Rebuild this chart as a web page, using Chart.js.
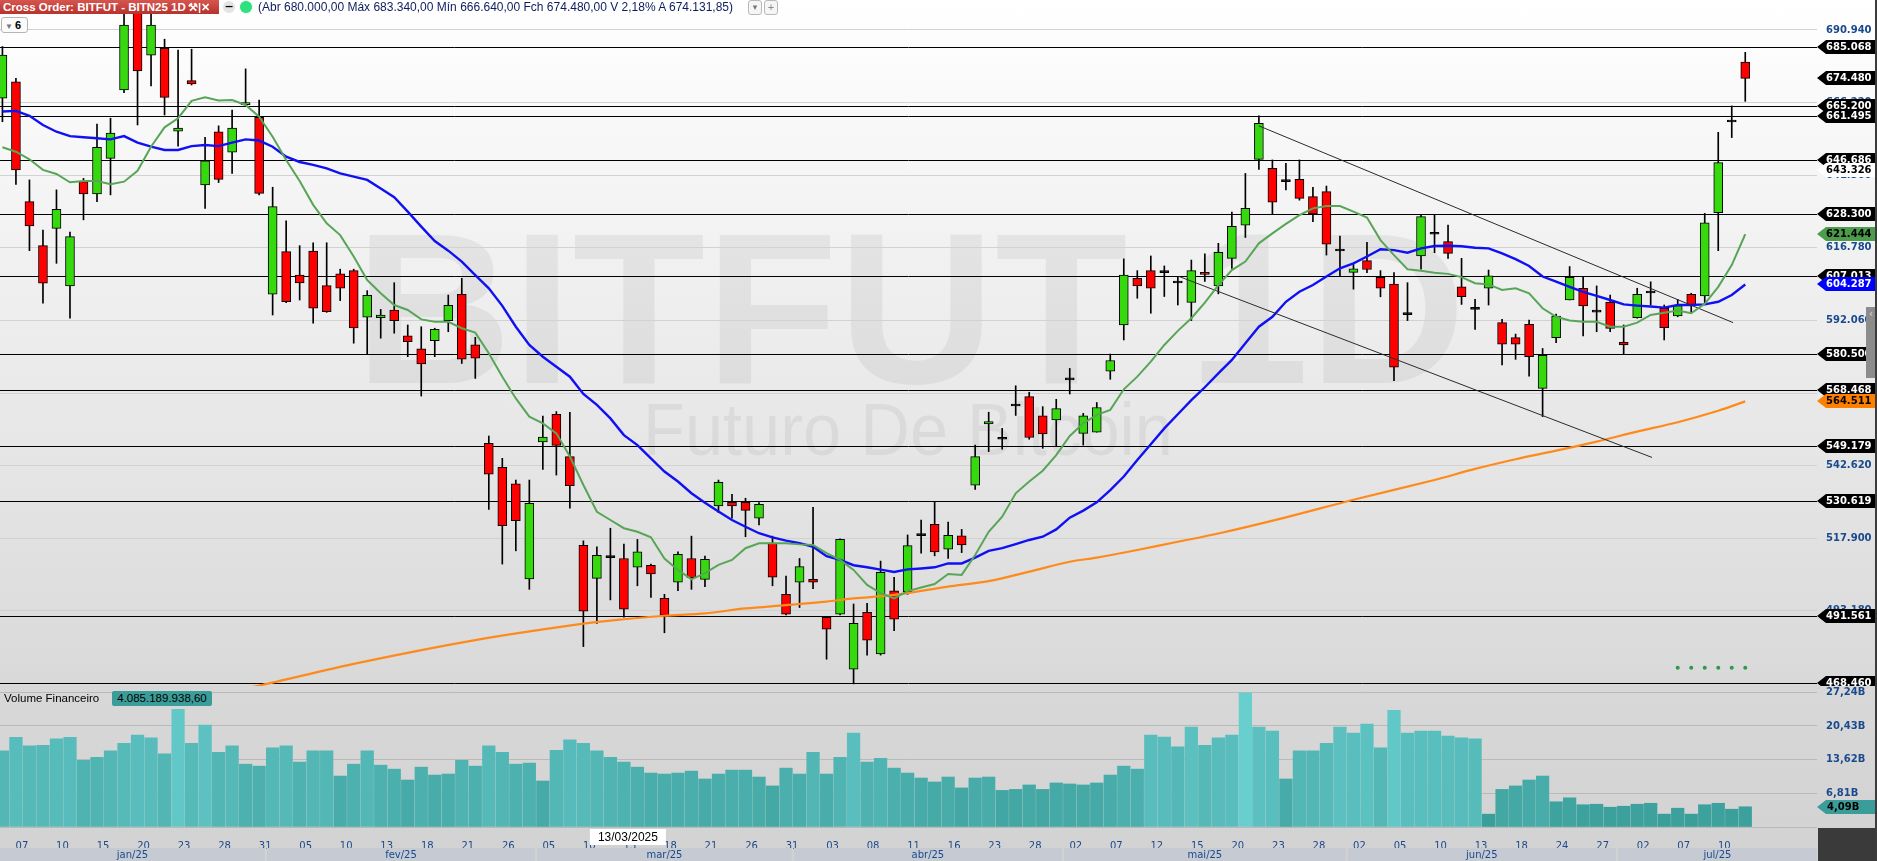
<!DOCTYPE html>
<html>
<head>
<meta charset="utf-8">
<script src="https://cdn.jsdelivr.net/npm/chart.js@4.4.1/dist/chart.umd.min.js"></script>
<style>
html, body { margin: 0; padding: 0; }
body { width: 1877px; height: 861px; position: relative; overflow: hidden; background: #d5d5d5; font-family: 'Liberation Sans', Arial, sans-serif; }
#pricePane { position: absolute; left: 0; top: 0; width: 1877px; height: 686px; background: linear-gradient(#ffffff, #d9d9d9); }
#volPane { position: absolute; left: 0; top: 686px; width: 1877px; height: 175px; background: linear-gradient(#d8d8d8, #d2d2d2); }
canvas { position: absolute; left: 0; top: 0; }
.ov { position: absolute; white-space: nowrap; }
#crossBox { left: 0; top: 0; width: 219px; height: 14px; background: linear-gradient(#d6564f, #b7332d); color: #fff; font: bold 11.5px 'Liberation Sans', Arial, sans-serif; line-height: 14px; padding-left: 3px; box-sizing: border-box; }
#crossBox .ic { position: absolute; left: 188px; top: 0; font-size: 11px; }
#minus { left: 223px; top: 1px; width: 12px; height: 12px; border-radius: 50%; background: #e4e4e4; color: #000; font: bold 11px 'DejaVu Sans'; line-height: 12px; text-align: center; }
#dot { left: 240px; top: 1px; width: 12px; height: 12px; border-radius: 50%; background: #2fe07e; box-shadow: 0 0 2px #a9f0c8; }
#hdrText { left: 258px; top: 0; font: 12px 'Liberation Sans', Arial, sans-serif; color: #0c1d5e; line-height: 14px; }
.btn { top: 0; width: 12px; height: 13px; border: 1px solid #b9b9b9; border-radius: 3px; background: #f5f5f5; color: #777; font: 9px 'DejaVu Sans'; line-height: 13px; text-align: center; }
#periodBox { left: 1px; top: 17px; width: 25px; height: 14px; border: 1px solid #b5b5b5; border-radius: 3px; background: #fbfbfb; font: bold 11px 'Liberation Sans'; line-height: 14px; }
#periodBox span { color: #777; font-size: 8px; margin: 0 2px 0 3px; }
#volLabel { left: 4px; top: 691px; font: 11.5px 'Liberation Sans', Arial, sans-serif; color: #000; line-height: 15px; }
#volValue { left: 112px; top: 691px; width: 100px; height: 15px; background: #3a9d99; border-radius: 2px; font: 11.5px 'Liberation Sans', Arial, sans-serif; color: #000; line-height: 15px; text-align: center; }
#scroll { left: 1866px; top: 307px; width: 10px; height: 71px; background: #8c8c8c; color: #ddd; font: 10px 'DejaVu Sans'; text-align: center; line-height: 14px; }
#edge { left: 1875px; top: 0; width: 2px; height: 861px; background: #3c3c3c; }
</style>
</head>
<body>
<div id="pricePane"><canvas id="priceChart" width="1877" height="686"></canvas></div>
<div id="volPane"><canvas id="volChart" width="1877" height="175"></canvas></div>

<div class="ov" id="crossBox">Cross Order: BITFUT - BITN25 1D<span class="ic">⚒|✕</span></div>
<div class="ov" id="minus">−</div>
<div class="ov" id="dot"></div>
<div class="ov" id="hdrText">(Abr 680.000,00 Máx 683.340,00 Mín 666.640,00 Fch 674.480,00 V 2,18% A 674.131,85)</div>
<div class="ov btn" style="left:748px">▾</div>
<div class="ov btn" style="left:764px">+</div>
<div class="ov" id="periodBox"><span>▼</span>6</div>
<div class="ov" id="volLabel">Volume Financeiro</div>
<div class="ov" id="volValue">4.085.189.938,60</div>
<div class="ov" id="scroll">‹</div>
<div class="ov" id="edge"></div>

<script>
// trading days shown (BITN25, daily)
const dates = [
  '06/01/2025','07/01/2025','08/01/2025','09/01/2025','10/01/2025','13/01/2025','14/01/2025','15/01/2025','16/01/2025','17/01/2025',
  '20/01/2025','21/01/2025','22/01/2025','23/01/2025','24/01/2025','27/01/2025','28/01/2025','29/01/2025','30/01/2025','31/01/2025',
  '03/02/2025','04/02/2025','05/02/2025','06/02/2025','07/02/2025','10/02/2025','11/02/2025','12/02/2025','13/02/2025','14/02/2025',
  '17/02/2025','18/02/2025','19/02/2025','20/02/2025','21/02/2025','24/02/2025','25/02/2025','26/02/2025','27/02/2025','28/02/2025',
  '05/03/2025','06/03/2025','07/03/2025','10/03/2025','11/03/2025','12/03/2025','13/03/2025','14/03/2025','17/03/2025','18/03/2025',
  '19/03/2025','20/03/2025','21/03/2025','24/03/2025','25/03/2025','26/03/2025','27/03/2025','28/03/2025','31/03/2025',
  '01/04/2025','02/04/2025','03/04/2025','04/04/2025','07/04/2025','08/04/2025','09/04/2025','10/04/2025','11/04/2025','14/04/2025',
  '15/04/2025','16/04/2025','17/04/2025','22/04/2025','23/04/2025','24/04/2025','25/04/2025','28/04/2025','29/04/2025','30/04/2025',
  '02/05/2025','05/05/2025','06/05/2025','07/05/2025','08/05/2025','09/05/2025','12/05/2025','13/05/2025','14/05/2025','15/05/2025',
  '16/05/2025','19/05/2025','20/05/2025','21/05/2025','22/05/2025','23/05/2025','26/05/2025','27/05/2025','28/05/2025','29/05/2025','30/05/2025',
  '02/06/2025','03/06/2025','04/06/2025','05/06/2025','06/06/2025','09/06/2025','10/06/2025','11/06/2025','12/06/2025','13/06/2025',
  '16/06/2025','17/06/2025','18/06/2025','20/06/2025','23/06/2025','24/06/2025','25/06/2025','26/06/2025','27/06/2025','30/06/2025',
  '01/07/2025','02/07/2025','03/07/2025','04/07/2025','07/07/2025','08/07/2025','09/07/2025','10/07/2025','11/07/2025','14/07/2025'
];
const monthNames = { '01': 'jan/25', '02': 'fev/25', '03': 'mar/25', '04': 'abr/25', '05': 'mai/25', '06': 'jun/25', '07': 'jul/25' };

const open = [
  667.7, 673.3, 632.5, 617.5, 623.4, 603.8, 639.3, 635.1, 647.2, 670.5,
  704.0, 682.4, 684.7, 656.5, 673.7, 638.2, 656.3, 649.3, 665.5, 661.2,
  601.0, 615.5, 607.5, 615.7, 603.9, 607.9, 609.0, 593.2, 593.0, 595.6,
  586.8, 582.4, 585.2, 592.0, 600.9, 583.7, 550.2, 542.0, 536.4, 504.0,
  550.7, 560.1, 545.7, 515.5, 504.2, 511.4, 511.0, 508.0, 508.7, 497.4,
  502.9, 511.0, 503.9, 528.9, 530.1, 530.1, 524.7, 516.2, 498.8,
  502.9, 503.9, 491.0, 492.0, 473.3, 492.7, 478.5, 500.0, 499.7, 518.9,
  522.6, 514.2, 518.7, 536.0, 556.8, 551.7, 563.0, 566.1, 559.6, 558.2,
  571.9, 553.6, 554.0, 574.8, 590.5, 606.4, 609.0, 608.4, 605.0, 598.2,
  608.4, 603.8, 613.2, 624.5, 646.9, 643.8, 639.4, 640.1, 634.2, 635.9, 615.8,
  608.4, 612.4, 606.7, 604.4, 594.1, 614.0, 621.5, 618.9, 603.5, 595.9,
  603.0, 591.3, 586.2, 590.7, 568.9, 586.2, 599.0, 603.0, 595.0, 598.2,
  584.6, 593.0, 601.5, 596.2, 593.6, 600.9, 600.4, 628.7, 659.7, 680.0
];
const high = [
  685.3, 674.5, 639.9, 622.8, 636.5, 622.1, 640.4, 658.9, 660.9, 697.9,
  712.0, 702.0, 687.8, 684.1, 684.4, 654.4, 658.3, 663.7, 677.7, 667.1,
  637.4, 626.0, 617.5, 618.5, 618.5, 609.5, 609.5, 602.2, 595.8, 604.9,
  590.5, 589.9, 589.4, 600.7, 606.4, 586.3, 552.7, 545.1, 537.7, 537.7,
  559.5, 561.0, 560.8, 517.0, 515.0, 521.3, 515.9, 517.5, 509.1, 498.8,
  513.3, 518.6, 511.8, 537.7, 532.8, 531.5, 530.0, 518.6, 505.0,
  511.0, 528.4, 491.2, 517.7, 495.5, 495.7, 510.1, 504.6, 519.0, 524.1,
  530.3, 523.4, 520.9, 549.6, 560.8, 555.3, 569.8, 567.6, 562.7, 565.2,
  575.7, 560.4, 564.1, 580.6, 613.0, 609.0, 614.0, 610.6, 607.0, 612.6,
  614.7, 618.3, 628.9, 642.1, 661.7, 646.7, 645.5, 646.7, 637.4, 637.8, 620.8,
  611.1, 618.6, 609.0, 608.3, 604.9, 628.0, 628.0, 624.5, 613.2, 599.2,
  609.2, 592.4, 587.4, 592.2, 582.5, 594.2, 610.4, 606.9, 603.8, 600.7,
  590.5, 603.0, 605.2, 597.3, 599.2, 601.3, 628.5, 656.1, 665.1, 683.34
];
const low = [
  659.7, 638.4, 615.8, 597.9, 611.5, 592.8, 626.3, 632.5, 634.8, 669.6,
  658.6, 671.9, 662.0, 651.4, 672.2, 630.2, 639.0, 642.1, 665.1, 634.8,
  593.9, 598.1, 599.0, 591.1, 594.8, 598.8, 584.3, 580.6, 586.0, 587.7,
  579.7, 566.3, 579.7, 588.2, 577.4, 572.3, 527.7, 509.1, 513.6, 500.5,
  541.3, 539.4, 528.1, 481.0, 488.9, 496.9, 491.0, 501.7, 497.7, 485.7,
  500.0, 500.5, 501.4, 526.6, 524.7, 518.4, 522.4, 501.7, 491.8,
  494.3, 500.7, 476.7, 491.8, 468.3, 478.1, 478.1, 486.4, 498.8, 512.8,
  511.9, 511.0, 513.0, 534.5, 547.4, 548.2, 559.7, 551.6, 548.5, 549.1,
  567.0, 549.6, 554.0, 572.0, 585.4, 599.6, 594.5, 600.2, 597.3, 592.0,
  605.3, 601.1, 609.8, 620.3, 643.5, 628.2, 636.5, 633.0, 625.7, 614.3, 607.2,
  602.7, 608.3, 600.1, 571.5, 592.0, 609.5, 615.1, 613.2, 597.5, 589.0,
  597.3, 576.9, 578.8, 573.1, 559.3, 584.5, 599.0, 586.8, 588.2, 588.2,
  580.6, 592.8, 597.3, 585.4, 593.3, 594.5, 597.9, 615.8, 654.3, 666.64
];
const close = [
  682.4, 643.3, 624.2, 604.7, 629.9, 620.6, 635.1, 651.0, 655.8, 692.6,
  677.0, 692.6, 668.0, 657.5, 672.6, 646.4, 640.1, 657.5, 666.2, 635.3,
  630.8, 598.4, 604.8, 596.2, 595.0, 603.0, 589.5, 600.6, 593.9, 592.0,
  584.8, 577.2, 589.0, 597.2, 578.9, 579.2, 539.7, 522.2, 523.9, 529.8,
  552.3, 549.5, 535.8, 493.1, 512.1, 511.3, 493.7, 513.3, 505.7, 491.6,
  512.4, 504.5, 510.7, 536.9, 528.9, 527.4, 529.4, 504.6, 492.0,
  508.2, 502.9, 486.9, 517.5, 488.9, 483.2, 506.3, 490.3, 515.4, 518.8,
  513.2, 518.9, 515.6, 545.7, 557.6, 551.6, 562.9, 552.2, 553.4, 562.0,
  571.8, 559.6, 562.4, 578.4, 607.5, 603.8, 603.0, 608.3, 604.8, 609.0,
  607.7, 615.2, 624.1, 630.2, 659.2, 632.3, 639.3, 633.6, 628.3, 618.0, 615.7,
  609.6, 609.4, 603.0, 576.1, 594.0, 627.4, 621.4, 614.9, 600.1, 595.8,
  607.2, 584.0, 584.0, 579.7, 580.2, 593.5, 606.7, 597.0, 594.9, 589.3,
  583.7, 600.9, 601.4, 589.6, 597.1, 597.3, 625.3, 645.8, 659.6, 674.48
];
// Volume Financeiro, in billions
const volume = [
  15.4, 18.1, 16.4, 16.5, 17.8, 18.1, 13.5, 14.1, 15.4, 16.9,
  18.6, 18.0, 14.8, 23.8, 16.9, 20.6, 15.1, 16.4, 12.7, 12.3,
  16.0, 16.4, 13.1, 15.4, 15.4, 10.3, 12.7, 15.4, 12.5, 11.7,
  9.5, 12.1, 10.5, 10.7, 13.5, 12.3, 16.4, 15.1, 12.7, 12.9,
  9.3, 15.5, 17.6, 16.9, 15.4, 14.1, 13.1, 12.1, 10.9, 10.7,
  10.9, 11.3, 9.7, 10.7, 11.5, 11.5, 10.1, 8.3, 11.9,
  10.7, 15.1, 10.7, 14.1, 19.0, 13.1, 13.9, 11.9, 10.9, 9.9,
  9.1, 10.1, 7.9, 9.9, 10.1, 7.4, 7.6, 8.5, 7.6, 8.9,
  8.7, 8.5, 8.9, 10.5, 12.3, 11.7, 18.6, 18.2, 16.2, 20.2,
  16.5, 18.0, 18.6, 27.1, 20.2, 19.4, 9.7, 15.4, 15.4, 16.9, 20.2,
  19.0, 20.8, 16.0, 23.6, 19.0, 19.4, 19.4, 18.4, 18.0, 17.8,
  2.6, 7.6, 8.3, 9.5, 10.3, 5.1, 5.9, 4.5, 4.6, 4.0,
  4.2, 4.6, 4.8, 2.6, 3.8, 2.6, 4.5, 4.8, 3.6, 4.09
];
// moving averages
const maGreen = [
  651.0, 649.5, 646.9, 643.3, 641.9, 639.1, 639.5, 639.5, 638.4, 639.3,
  643.0, 651.2, 657.8, 660.9, 666.8, 668.0, 666.9, 667.1, 665.4, 661.4,
  654.6, 646.7, 639.5, 631.4, 625.1, 621.1, 613.8, 605.8, 601.3, 597.3,
  595.6, 592.4, 591.6, 591.6, 589.4, 587.9, 580.9, 572.9, 565.5, 559.3,
  557.0, 553.6, 545.7, 536.0, 526.9, 524.1, 521.3, 520.1, 518.2, 511.0,
  507.1, 503.9, 506.0, 508.8, 510.5, 514.5, 516.2, 516.2, 516.2,
  515.8, 515.6, 512.8, 510.5, 507.1, 502.0, 499.2, 497.4, 499.9, 501.1,
  502.3, 505.7, 505.4, 512.2, 520.1, 525.2, 533.2, 537.2, 540.9, 546.2,
  552.7, 557.0, 559.9, 561.6, 568.6, 572.9, 578.0, 583.7, 588.5, 592.8,
  598.1, 604.1, 609.2, 612.1, 618.3, 621.7, 624.9, 627.9, 630.2, 631.0, 631.0,
  629.1, 627.1, 619.4, 614.3, 609.5, 609.0, 608.3, 607.9, 606.8, 604.7,
  604.3, 602.4, 603.0, 601.3, 596.2, 593.3, 592.0, 591.6, 591.6, 589.9,
  589.9, 591.3, 593.9, 594.7, 595.4, 594.5, 597.7, 603.5, 610.9, 621.4
];
const maBlue = [
  663.2, 663.4, 661.7, 658.6, 656.3, 654.8, 654.4, 654.1, 653.7, 654.8,
  652.6, 651.2, 650.1, 650.1, 651.4, 651.8, 651.4, 652.6, 653.7, 653.3,
  651.2, 647.8, 646.0, 645.0, 643.8, 642.1, 641.0, 639.9, 637.0, 634.0,
  629.1, 624.0, 619.1, 615.8, 612.1, 607.5, 603.0, 597.0, 589.9, 583.7,
  579.7, 576.3, 572.9, 567.0, 563.3, 558.7, 553.0, 549.6, 545.1, 540.6,
  537.2, 533.2, 530.0, 527.0, 524.1, 521.8, 519.6, 518.2, 517.1,
  516.2, 515.0, 511.8, 510.5, 508.7, 508.0, 507.2, 506.4, 507.3, 507.6,
  508.0, 509.3, 509.3, 511.3, 513.6, 514.5, 515.9, 517.3, 518.4, 520.9,
  524.9, 527.3, 530.1, 534.3, 538.9, 544.5, 549.9, 555.3, 560.1, 564.9,
  569.3, 574.0, 578.6, 584.3, 589.9, 593.3, 598.4, 601.8, 604.1, 607.0, 609.8,
  611.5, 613.8, 616.3, 616.0, 615.1, 616.6, 617.4, 617.5, 617.3, 616.8,
  616.6, 614.9, 612.9, 610.6, 607.0, 605.3, 603.5, 601.8, 600.4, 599.0,
  597.5, 597.1, 596.8, 596.4, 597.3, 597.3, 597.5, 598.4, 600.7, 604.3
];
const maOrangeIdx = [15, 19, 26, 35, 43, 46, 49, 52, 55, 58, 61, 63, 66, 70, 73, 76, 79, 81, 84, 87, 90, 95, 100, 106, 109, 112, 115, 118, 121, 124, 127, 129];
const maOrange = [464.0, 467.7, 475.1, 483.2, 488.8, 490.3, 491.5, 492.3, 494.0, 495.1, 496.3, 497.4, 498.6, 501.4, 503.3, 506.5, 509.9, 511.3, 513.9, 516.7, 519.5, 525.0, 531.0, 537.7, 541.5, 544.8, 547.7, 550.8, 554.2, 557.4, 561.3, 564.5];

// drawn studies
const trendUpperIdx = [93, 128.1];
const trendUpperVal = [658.3, 591.3];
const trendLowerIdx = [87.1, 122.1];
const trendLowerVal = [607.0, 545.4];
const markerIdx = [124, 125, 126, 127, 128, 129];
const markerVal = 473.8;

const levelLines = [685.068, 665.2, 661.495, 646.686, 628.3, 607.013, 580.5, 568.468, 549.179, 530.619, 491.561, 468.46];
const priceTicks = [690.94, 666.22, 641.5, 616.78, 592.06, 567.34, 542.62, 517.9, 493.18, 468.46];
const volTicks = [0, 6.81, 13.62, 20.43, 27.24];
const lastClose = 674.48;
const cursorPrice = 643.326;
const greenLast = 621.444;
const blueLast = 604.287;
const orangeLast = 564.511;
const volLast = 4.09;
const cursorIdx = 46;

// ---- layout / style
const X_MIN = -0.18, X_MAX = 134.31;
const AXIS_W = 60;
const GREEN = '#36d90e', RED = '#ff0000';
const TICK_BLUE = '#1a4a8c';
const AXIS_FONT = { family: 'DejaVu Sans', size: 10, weight: 'bold' };

Chart.defaults.font.family = 'DejaVu Sans';
Chart.defaults.animation = false;

function fixY(scale) {
  scale.width = AXIS_W;
  scale.paddingTop = 0;
  scale.paddingBottom = 0;
}

function drawTag(ctx, x0, y, text, bg, fg) {
  ctx.save();
  ctx.fillStyle = bg;
  ctx.beginPath();
  ctx.moveTo(x0, y);
  ctx.lineTo(x0 + 9, y - 7);
  ctx.lineTo(x0 + 58, y - 7);
  ctx.lineTo(x0 + 58, y + 7);
  ctx.lineTo(x0 + 9, y + 7);
  ctx.closePath();
  ctx.fill();
  ctx.fillStyle = fg;
  ctx.font = 'bold 10px "DejaVu Sans"';
  ctx.textBaseline = 'middle';
  ctx.textAlign = 'left';
  ctx.fillText(text, x0 + 9, y + 0.5);
  ctx.restore();
}

function fitText(ctx, text, x, baseline, width) {
  const w = ctx.measureText(text).width;
  ctx.save();
  ctx.translate(x, baseline);
  ctx.scale(width / w, 1);
  ctx.fillText(text, 0, 0);
  ctx.restore();
}

const pricePlugin = {
  id: 'pricePlugin',
  beforeDraw(chart) {
    const ctx = chart.ctx;
    ctx.save();
    ctx.fillStyle = 'rgba(0,0,0,0.055)';
    ctx.textBaseline = 'alphabetic';
    ctx.font = 'bold 215px "Liberation Sans"';
    fitText(ctx, 'BITFUT 1D', 355, 383, 1111);
    ctx.font = '74px "Liberation Sans"';
    fitText(ctx, 'Futuro De Bitcoin', 643, 455, 530);
    ctx.restore();
  },
  beforeDatasetsDraw(chart) {
    const { ctx, chartArea: a, scales: { y } } = chart;
    ctx.save();
    ctx.strokeStyle = '#000';
    ctx.lineWidth = 1;
    levelLines.forEach(v => {
      const py = Math.round(y.getPixelForValue(v)) + 0.5;
      ctx.beginPath();
      ctx.moveTo(a.left, py);
      ctx.lineTo(a.right, py);
      ctx.stroke();
    });
    ctx.restore();
  },
  afterDraw(chart) {
    const { ctx, chartArea: a, scales: { y } } = chart;
    const tags = levelLines.map(v => ({ v, bg: '#000', fg: '#fff' }));
    tags.push({ v: lastClose, bg: '#000', fg: '#fff' });
    tags.push({ v: cursorPrice, bg: '#ffffff', fg: '#000' });
    tags.push({ v: greenLast, bg: '#4c9c4c', fg: '#000' });
    tags.push({ v: blueLast, bg: '#0000ff', fg: '#fff' });
    tags.push({ v: orangeLast, bg: '#ff8000', fg: '#000' });
    tags.sort((p, q) => q.v - p.v);
    tags.forEach(t => drawTag(ctx, a.right, Math.round(y.getPixelForValue(t.v)), t.v.toFixed(3), t.bg, t.fg));
  }
};

const priceCtx = document.getElementById('priceChart');
new Chart(priceCtx, {
  type: 'bar',
  data: {
    datasets: [
      {
        label: 'wick',
        data: dates.map((d, i) => ({ x: i, y: [low[i], high[i]] })),
        backgroundColor: '#000',
        barThickness: 1,
        grouped: false,
        order: 5
      },
      {
        label: 'body',
        data: dates.map((d, i) => ({ x: i, y: [open[i], close[i]] })),
        backgroundColor: dates.map((d, i) => Math.abs(close[i] - open[i]) < 0.5 ? '#000' : (close[i] >= open[i] ? GREEN : RED)),
        borderColor: '#000',
        borderWidth: 1,
        borderSkipped: false,
        barThickness: 9,
        minBarLength: 2,
        grouped: false,
        order: 4
      },
      {
        type: 'line', label: 'orange',
        data: maOrangeIdx.map((x, k) => ({ x, y: maOrange[k] })),
        borderColor: '#ff8a1c', borderWidth: 2.2, pointRadius: 0, tension: 0.3, order: 3
      },
      {
        type: 'line', label: 'blue',
        data: maBlue.map((v, i) => ({ x: i, y: v })),
        borderColor: '#1010f5', borderWidth: 2.4, pointRadius: 0, tension: 0, order: 2
      },
      {
        type: 'line', label: 'green',
        data: maGreen.map((v, i) => ({ x: i, y: v })),
        borderColor: '#58a558', borderWidth: 2, pointRadius: 0, tension: 0, order: 1
      },
      {
        type: 'line', label: 'trendUpper',
        data: trendUpperIdx.map((x, k) => ({ x, y: trendUpperVal[k] })),
        borderColor: '#2a2a2a', borderWidth: 1, pointRadius: 0, order: 1
      },
      {
        type: 'line', label: 'trendLower',
        data: trendLowerIdx.map((x, k) => ({ x, y: trendLowerVal[k] })),
        borderColor: '#2a2a2a', borderWidth: 1, pointRadius: 0, order: 1
      },
      {
        type: 'line', label: 'markers',
        data: markerIdx.map(x => ({ x, y: markerVal })),
        showLine: false, pointRadius: 2, pointBorderWidth: 0,
        pointBackgroundColor: '#2f9a44', order: 1
      }
    ]
  },
  options: {
    responsive: false,
    animation: false,
    layout: { padding: 0, autoPadding: false },
    plugins: { legend: { display: false }, tooltip: { enabled: false } },
    scales: {
      x: {
        type: 'linear', min: X_MIN, max: X_MAX, offset: false, display: false
      },
      y: {
        position: 'right', min: 467.58, max: 701.15,
        afterBuildTicks: s => { s.ticks = priceTicks.map(v => ({ value: v })); },
        afterFit: fixY,
        grid: { color: '#d2d2d2', drawTicks: false, lineWidth: 1 },
        border: { display: false },
        ticks: { color: TICK_BLUE, font: AXIS_FONT, padding: 9, callback: v => v.toFixed(3) }
      }
    }
  },
  plugins: [pricePlugin]
});

// ---- volume pane
function volColor(v) {
  const t = Math.min(1, Math.max(0, (v - 3) / 24));
  const c0 = [58, 158, 154], c1 = [104, 206, 206];
  return 'rgb(' + c0.map((c, k) => Math.round(c + (c1[k] - c) * t)).join(',') + ')';
}

const tickIdx = [];
for (let i = 1; i < dates.length; i += 3) tickIdx.push(i);

const volPlugin = {
  id: 'volPlugin',
  afterDraw(chart) {
    const { ctx, chartArea: a, scales: { x, y } } = chart;
    const H = chart.height;
    // month band
    const months = [];
    dates.forEach((d, i) => {
      const m = d.slice(3, 5);
      if (!months.length || months[months.length - 1].m !== m) months.push({ m, from: i, to: i });
      else months[months.length - 1].to = i;
    });
    ctx.save();
    months.forEach((mo, k) => {
      const x0 = k === 0 ? a.left : x.getPixelForValue(mo.from - 0.5) + 1;
      const x1 = k === months.length - 1 ? a.right : x.getPixelForValue(mo.to + 0.5) - 1;
      ctx.fillStyle = '#c6cad3';
      ctx.fillRect(x0, H - 13, x1 - x0, 13);
      ctx.fillStyle = TICK_BLUE;
      ctx.font = '10px "DejaVu Sans"';
      ctx.textAlign = 'center';
      ctx.textBaseline = 'middle';
      ctx.fillText(monthNames[mo.m], (x0 + x1) / 2, H - 6);
    });
    // dark corner under the axis
    ctx.fillStyle = '#3a3a3a';
    ctx.fillRect(a.right + 1, a.bottom + 1, chart.width - a.right, H - a.bottom);
    // cursor date box
    const cx = x.getPixelForValue(cursorIdx) + 4;
    ctx.fillStyle = '#ffffff';
    ctx.fillRect(cx - 38, a.bottom + 2, 76, 16);
    ctx.fillStyle = '#000';
    ctx.font = '12px "Liberation Sans"';
    ctx.textAlign = 'center';
    ctx.textBaseline = 'middle';
    ctx.fillText(dates[cursorIdx], cx, a.bottom + 10.5);
    ctx.restore();
    // last volume tag
    const ty = Math.round(y.getPixelForValue(volLast));
    ctx.save();
    ctx.fillStyle = '#3a9d99';
    ctx.beginPath();
    ctx.moveTo(a.right, ty);
    ctx.lineTo(a.right + 9, ty - 7);
    ctx.lineTo(a.right + 58, ty - 7);
    ctx.lineTo(a.right + 58, ty + 7);
    ctx.lineTo(a.right + 9, ty + 7);
    ctx.closePath();
    ctx.fill();
    ctx.fillStyle = '#000';
    ctx.font = 'bold 10px "DejaVu Sans"';
    ctx.textBaseline = 'middle';
    ctx.fillText(volLast.toFixed(2).replace('.', ',') + 'B', a.right + 10, ty + 0.5);
    ctx.restore();
  }
};

new Chart(document.getElementById('volChart'), {
  type: 'bar',
  data: {
    datasets: [{
      label: 'Volume Financeiro',
      data: volume.map((v, i) => ({ x: i, y: v })),
      backgroundColor: volume.map(volColor),
      barThickness: 12.6,
      borderWidth: 0
    }]
  },
  options: {
    responsive: false,
    animation: false,
    layout: { padding: 0, autoPadding: false },
    plugins: { legend: { display: false }, tooltip: { enabled: false } },
    scales: {
      x: {
        type: 'linear', min: X_MIN, max: X_MAX, offset: false,
        afterBuildTicks: s => { s.ticks = tickIdx.map(v => ({ value: v })); },
        afterFit: s => { s.height = 34; s.paddingLeft = 0; s.paddingRight = 0; },
        grid: { display: false },
        border: { display: false },
        ticks: {
          autoSkip: false, maxRotation: 0, padding: 5, labelOffset: 6,
          color: TICK_BLUE, font: { family: 'DejaVu Sans', size: 10 },
          callback: v => dates[v] ? dates[v].slice(0, 2) : ''
        }
      },
      y: {
        position: 'right', min: 0, max: 28.5,
        afterBuildTicks: s => { s.ticks = volTicks.map(v => ({ value: v })); },
        afterFit: fixY,
        grid: { color: '#b9b9b9', drawTicks: false },
        border: { display: false },
        ticks: {
          color: TICK_BLUE, font: AXIS_FONT, padding: 9,
          callback: v => v === 0 ? '' : v.toFixed(2).replace('.', ',') + 'B'
        }
      }
    }
  },
  plugins: [volPlugin]
});
</script>
</body>
</html>
